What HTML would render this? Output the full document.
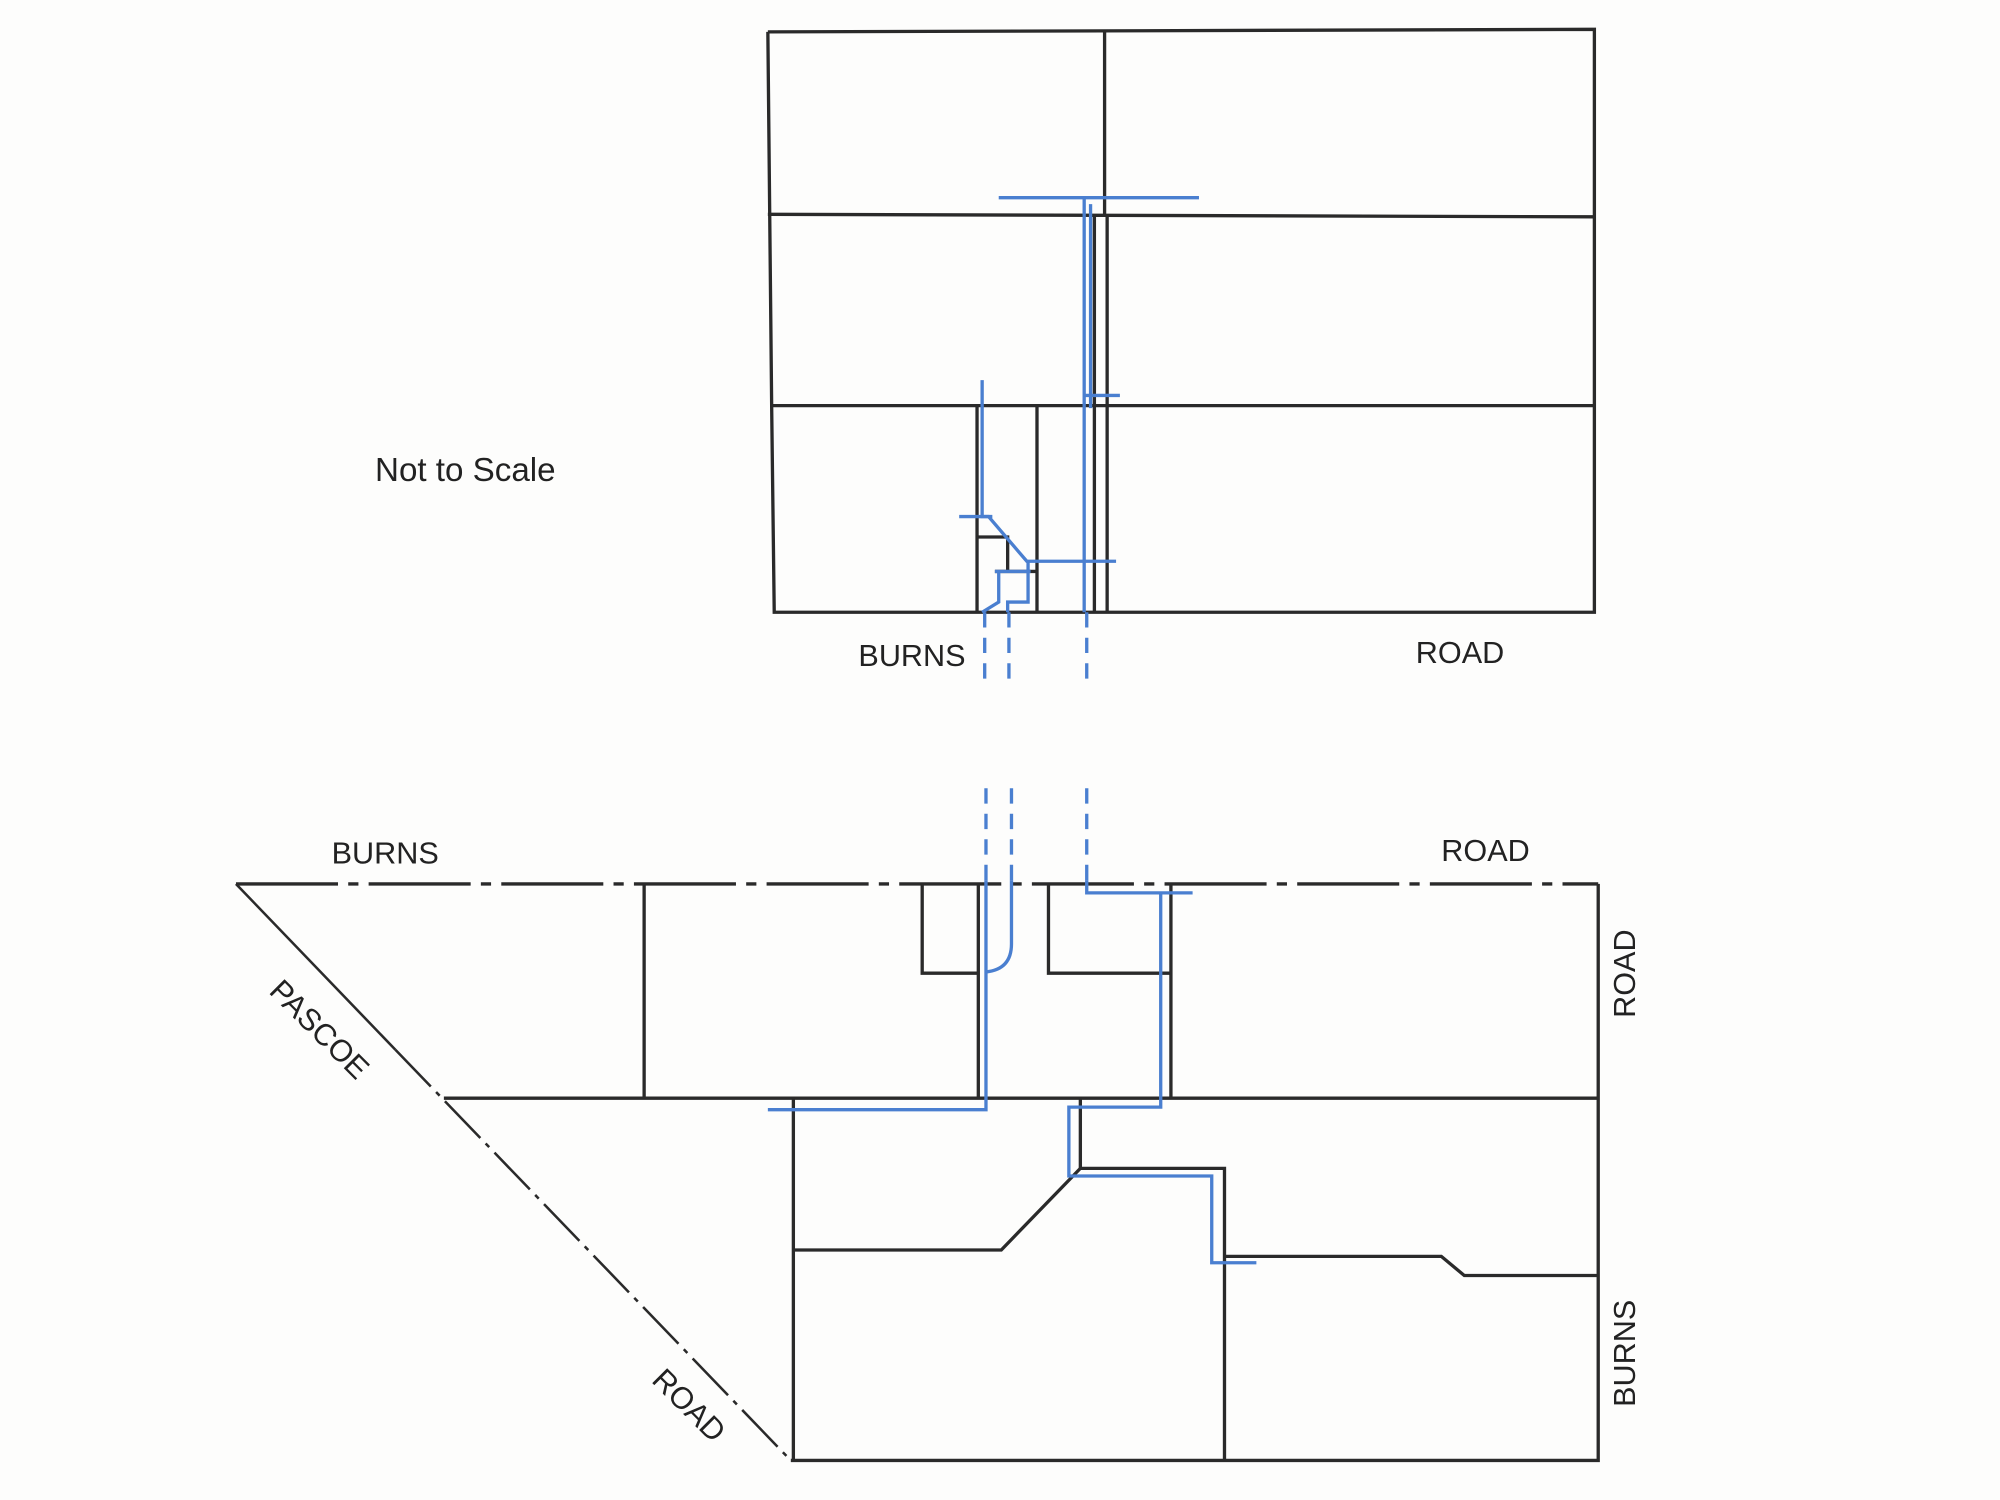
<!DOCTYPE html>
<html><head><meta charset="utf-8"><style>html,body{margin:0;padding:0;background:#fff}svg{display:block}</style></head><body>
<svg width="2000" height="1500" viewBox="0 0 1568 1176" xmlns="http://www.w3.org/2000/svg">
<rect width="1568" height="1176" fill="#fdfdfc"/>
<g stroke="#2a2a2a" stroke-width="2.6" fill="none">
<polyline points="602,25 1250,23 1250,480 607,480 605,320 602,25"/>
<line x1="602" y1="168" x2="1250" y2="170"/>
<line x1="605" y1="318" x2="1250" y2="318"/>
<line x1="866" y1="25" x2="866" y2="168"/>
<line x1="858" y1="168" x2="858" y2="480"/>
<line x1="868" y1="168" x2="868" y2="480"/>
<line x1="766" y1="318" x2="766" y2="480"/>
<line x1="813" y1="318" x2="813" y2="480"/>
<polyline points="766,421 790,421 790,448"/>
<line x1="780" y1="448" x2="813" y2="448"/>
<line x1="185" y1="693" x2="1253" y2="693" stroke-dasharray="80,8,8,8"/>
<polyline points="1253,693 1253,1145 620,1145"/>
<line x1="185" y1="693" x2="310" y2="823" stroke-width="2"/>
<line x1="310" y1="823" x2="620" y2="1145" stroke-width="2" stroke-dasharray="40,6,4,6"/>
<line x1="348" y1="861" x2="1253" y2="861"/>
<line x1="505" y1="693" x2="505" y2="861"/>
<line x1="767" y1="693" x2="767" y2="861"/>
<polyline points="723,693 723,763 767,763"/>
<polyline points="822,693 822,763 918,763"/>
<line x1="918" y1="693" x2="918" y2="861"/>
<line x1="622" y1="861" x2="622" y2="1145"/>
<polyline points="847,861 847,916 960,916 960,1145"/>
<polyline points="622,980 785,980 847,916"/>
<polyline points="960,985 1130,985 1148,1000 1253,1000"/>
</g>
<g stroke="#4a7fd0" stroke-width="2.6" fill="none">
<line x1="783" y1="155" x2="940" y2="155"/>
<line x1="850" y1="155" x2="850" y2="480"/>
<line x1="855" y1="160" x2="855" y2="320"/>
<line x1="850" y1="310" x2="878" y2="310"/>
<polyline points="770,298 770,405 775,405 805,440 875,440"/>
<line x1="752" y1="405" x2="778" y2="405"/>
<polyline points="780,448 808,448"/>
<polyline points="783,448 783,472 770,480"/>
<polyline points="806,440 806,472 790,472 790,480"/>
<g stroke-dasharray="12,8">
<line x1="772" y1="480" x2="772" y2="540"/>
<line x1="791" y1="480" x2="791" y2="540"/>
<line x1="852" y1="480" x2="852" y2="540"/>
<line x1="773" y1="618" x2="773" y2="690"/>
<line x1="793" y1="618" x2="793" y2="690"/>
<line x1="852" y1="618" x2="852" y2="690"/>
</g>
<polyline points="773,690 773,870 602,870"/>
<path d="M793,690 L793,740 Q793,760 773,762"/>
<polyline points="852,690 852,700 935,700"/>
<polyline points="910,700 910,868 838,868 838,922 950,922 950,990 985,990"/>
</g>
<g font-family="'Liberation Sans', 'DejaVu Sans', sans-serif" fill="#222" font-size="24">
<text x="294" y="377" font-size="26">Not to Scale</text>
<text x="673" y="522">BURNS</text>
<text x="1110" y="520">ROAD</text>
<text x="260" y="677">BURNS</text>
<text x="1130" y="675">ROAD</text>
<text transform="translate(1282,798) rotate(-90)">ROAD</text>
<text transform="translate(1282,1103) rotate(-90)">BURNS</text>
<text transform="translate(210,778) rotate(45)">PASCOE</text>
<text transform="translate(510,1083) rotate(45)">ROAD</text>
</g>
</svg>
</body></html>
